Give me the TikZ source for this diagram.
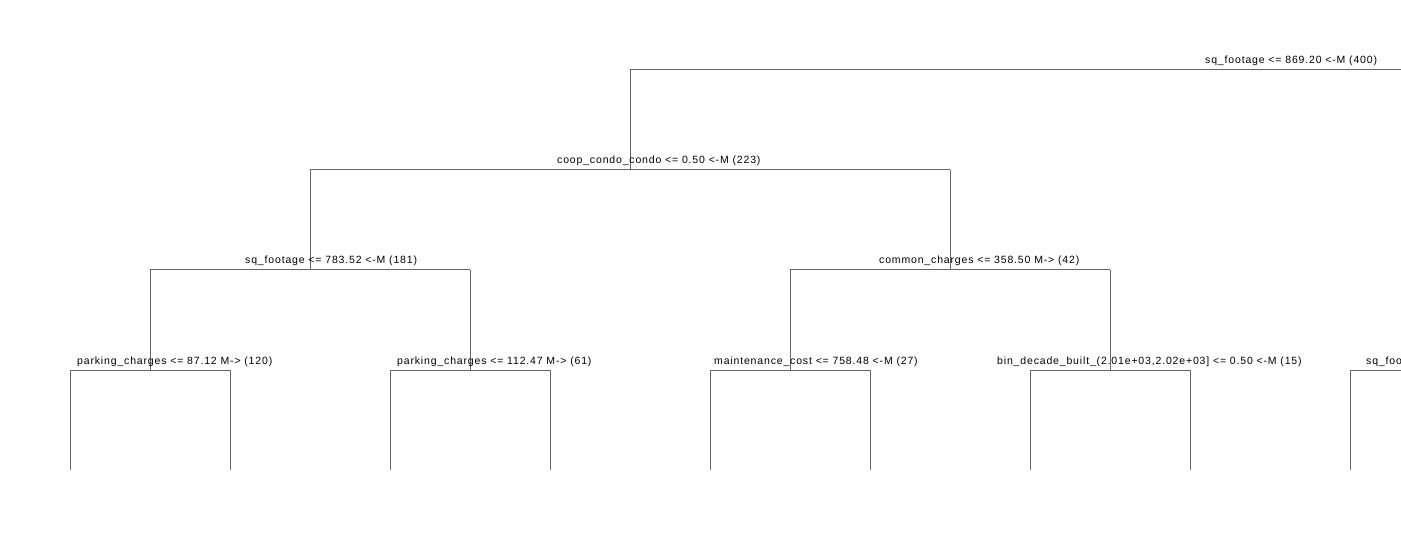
\documentclass[tikz,border=0pt]{standalone}
\usepackage{fontspec}
\setmainfont{Liberation Sans}[LetterSpace=8]
\begin{document}
\begin{tikzpicture}[x=1pt,y=-1pt,
  edge/.style={draw=black!60, line width=1pt},
  lbl/.style={anchor=base west, inner sep=0pt, font=\fontsize{10.5}{12}\selectfont}]
\useasboundingbox (0,0) rectangle (1401,540);
\clip (0,0) rectangle (1401,540);
% tree points
\coordinate (rootL) at (630,70);
\coordinate (rootR) at (1410,70);
\coordinate (n1) at (630,170);
\coordinate (n1L) at (310,170);
\coordinate (n1R) at (950,170);
\coordinate (n2) at (310,270);
\coordinate (n2L) at (150,270);
\coordinate (n2R) at (470,270);
\coordinate (n3) at (950,270);
\coordinate (n3L) at (790,270);
\coordinate (n3R) at (1110,270);
\coordinate (a) at (150,370);
\coordinate (aL) at (70,370);
\coordinate (aR) at (230,370);
\coordinate (b) at (470,370);
\coordinate (bL) at (390,370);
\coordinate (bR) at (550,370);
\coordinate (c) at (790,370);
\coordinate (cL) at (710,370);
\coordinate (cR) at (870,370);
\coordinate (d) at (1110,370);
\coordinate (dL) at (1030,370);
\coordinate (dR) at (1190,370);
\coordinate (e) at (1430,370);
\coordinate (eL) at (1350,370);
\coordinate (aLe) at (70,470);
\coordinate (aRe) at (230,470);
\coordinate (bLe) at (390,470);
\coordinate (bRe) at (550,470);
\coordinate (cLe) at (710,470);
\coordinate (cRe) at (870,470);
\coordinate (dLe) at (1030,470);
\coordinate (dRe) at (1190,470);
\coordinate (eLe) at (1350,470);
% connectors
\draw[edge] (rootR) -- (rootL) -- (n1);
\draw[edge] (n1L) -- (n1R);
\draw[edge] (n1L) -- (n2);
\draw[edge] (n1R) -- (n3);
\draw[edge] (n2L) -- (n2R);
\draw[edge] (n3L) -- (n3R);
\draw[edge] (n2L) -- (a);
\draw[edge] (n2R) -- (b);
\draw[edge] (n3L) -- (c);
\draw[edge] (n3R) -- (d);
\draw[edge] (aLe) -- (aL) -- (aR) -- (aRe);
\draw[edge] (bLe) -- (bL) -- (bR) -- (bRe);
\draw[edge] (cLe) -- (cL) -- (cR) -- (cRe);
\draw[edge] (dLe) -- (dL) -- (dR) -- (dRe);
\draw[edge] (eLe) -- (eL) -- (e);
% labels
\node[lbl] (t0) at (1205,64) {sq\_footage <= 869.20 <-M (400)};
\node[lbl] (t1) at (557,164) {coop\_condo\_condo <= 0.50 <-M (223)};
\node[lbl] (t2) at (245,264) {sq\_footage <= 783.52 <-M (181)};
\node[lbl] (t3) at (879,264) {common\_charges <= 358.50 M-> (42)};
\node[lbl] (t4) at (77,364) {parking\_charges <= 87.12 M-> (120)};
\node[lbl] (t5) at (397,364) {parking\_charges <= 112.47 M-> (61)};
\node[lbl] (t6) at (714,364) {maintenance\_cost <= 758.48 <-M (27)};
\node[lbl] (t7) at (997,364) {bin\_decade\_built\_(2.01e+03,2.02e+03] <= 0.50 <-M (15)};
\node[lbl] (t8) at (1366,364) {sq\_footage};
\end{tikzpicture}
\end{document}
